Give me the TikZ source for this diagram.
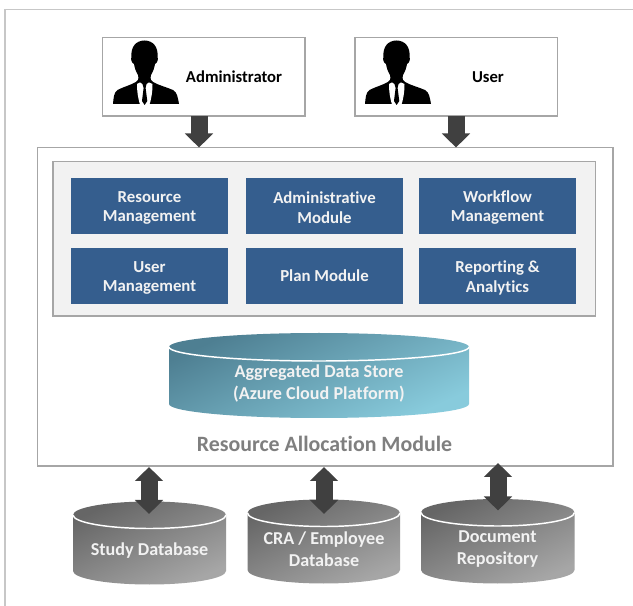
\documentclass[tikz,border=0pt]{standalone}
\usepackage{fontspec}
\setmainfont[Ligatures={NoCommon}]{Carlito}
\usetikzlibrary{arrows.meta}
\definecolor{boxline}{HTML}{A6A6A6}
\definecolor{modblue}{HTML}{355E8E}
\definecolor{arrowgrey}{HTML}{404040}
\definecolor{labelgrey}{HTML}{7F7F7F}
\definecolor{tealdark}{HTML}{4E7F92}
\definecolor{teallight}{HTML}{88CBDC}
\definecolor{dbdark}{HTML}{666666}
\definecolor{dblight}{HTML}{A6A6A6}
\definecolor{modtext}{HTML}{F2F2F2}
\newcommand{\modstrut}{\rule{0pt}{11.5pt}}
\tikzset{
  x=0.75pt,y=-0.75pt,
  framebox/.style={draw=boxline,line width=1.2pt,fill=white,inner sep=0pt,outer sep=0pt},
  actorbox/.style={framebox,minimum width=152pt,minimum height=59pt},
  actorlabel/.style={font=\fontsize{12.5pt}{14pt}\bfseries,text=black,inner sep=0pt},
  modbox/.style={fill=modblue,text=modtext,font=\fontsize{12.6pt}{14.6pt}\bfseries,align=center,
    minimum width=117.75pt,minimum height=42pt,inner sep=0pt,outer sep=0pt},
  dbtext/.style={text=modtext,font=\fontsize{13.6pt}{16.5pt}\bfseries,align=center,inner sep=0pt},
  flow/.style={draw=arrowgrey,line width=12.75pt,-{Triangle[length=10.5pt,width=20.5pt]}},
  bothflow/.style={draw=arrowgrey,line width=12.75pt,{Triangle[length=10.5pt,width=20.5pt]}-{Triangle[length=10.5pt,width=20.5pt]}},
  rim/.style={draw=white,line width=1.1pt},
  person/.pic={
    \fill[black] (8,66) .. controls (8.5,60) and (9,54) .. (12.5,52)
      .. controls (18,49) and (26,47) .. (31,44)
      .. controls (33,43) and (34,41) .. (33,37)
      .. controls (30.5,33) and (29.5,29) .. (29,26)
      .. controls (26.5,25) and (25.5,21) .. (26.5,19)
      .. controls (25.5,9) and (31,2.5) .. (39.5,2.5)
      .. controls (48,2.5) and (53.5,9) .. (52.5,19)
      .. controls (53.5,21) and (52.5,25) .. (50,26)
      .. controls (49.5,29) and (48.5,33) .. (46,37)
      .. controls (45,41) and (46,43) .. (48,44)
      .. controls (53,47) and (61,49) .. (68,52)
      .. controls (72,54) and (73,60) .. (74,66) -- cycle;
    \fill[white] (32,46) -- (35,44.5) -- (39.5,47.5) -- (44,44.5) -- (47.5,46)
      .. controls (47.5,55) and (46,62) .. (44.5,66.5) -- (35,66.5)
      .. controls (33.5,62) and (32,55) .. (32,46) -- cycle;
    \fill[black] (37.5,46) -- (41.5,46) -- (40.6,50) -- (42.3,63) -- (39.6,67) -- (37,63) -- (38.6,50) -- cycle;
  }
}
% #1 shading start, #2 end, #3 left x, #4 right x, #5 top ellipse centre y, #6 bottom ellipse centre y, #7 ry
\newcommand{\dbdrum}[7]{%
  \path[left color=#1,right color=#2,shading angle=25]
    (#3,#5) arc[start angle=180,end angle=360,x radius={(#4-#3)/2},y radius=#7]
    -- (#4,#6) arc[start angle=0,end angle=180,x radius={(#4-#3)/2},y radius=#7] -- cycle;
  \draw[rim] (#3,#5) arc[start angle=180,end angle=0,x radius={(#4-#3)/2},y radius=#7];
}
\begin{document}
\begin{tikzpicture}
\useasboundingbox (0,0) rectangle (633,606);
\fill[white] (0,0) rectangle (633,606);
\draw[draw=black!22,line width=0.9pt] (5,606) -- (5,9.5) -- (633,9.5);

% actors
\node[actorbox,anchor=north west] (admin) at (102.5,37.5) {};
\node[actorbox,anchor=north west] (user) at (355,37.5) {};
\pic at (105,38) {person};
\pic at (357,38) {person};
\node[actorlabel] (adminlabel) at (234,77) {Administrator};
\node[actorlabel] (userlabel) at (488,77) {User};

% main module
\node[framebox,minimum width=431.5pt,minimum height=239pt,anchor=north west] (main) at (37.5,147.5) {};
\node[framebox,fill=black!5,minimum width=407pt,minimum height=116pt,anchor=north west] (inner) at (53,161.5) {};

\node[modbox,anchor=north west] (resm) at (71,178) {\modstrut Resource\\Management};
\node[modbox,anchor=north west] (admod) at (246,178) {\modstrut Administrative\\Module};
\node[modbox,anchor=north west] (workf) at (419,178) {\modstrut Workflow\\Management};
\node[modbox,anchor=north west] (userm) at (71,248) {\modstrut User\\Management};
\node[modbox,anchor=north west] (plan) at (246,248) {Plan Module};
\node[modbox,anchor=north west] (report) at (419,248) {\modstrut Reporting \&\\Analytics};

% data store
\dbdrum{tealdark}{teallight}{169}{469}{347}{404}{14}
\node[dbtext] (store) at (319,384) {Aggregated Data Store\\(Azure Cloud Platform)};
\node[text=labelgrey,font=\fontsize{16.4pt}{18pt}\bfseries,inner sep=0pt] (ramlabel) at (324.5,444) {Resource Allocation Module};

% databases
\dbdrum{dbdark}{dblight}{73}{226}{515}{571}{13.5}
\dbdrum{dbdark}{dblight}{247.5}{400}{513}{570}{13.5}
\dbdrum{dbdark}{dblight}{421}{574.5}{512.5}{570}{13.5}
\node[dbtext] (study) at (149.5,551) {Study Database};
\node[dbtext] (cra) at (324,549) {CRA / Employee\\Database};
\node[dbtext] (docs) at (497.5,549) {Document\\Repository};

% connectors
\coordinate (a1) at (admin.south -| 199,0);
\coordinate (a2) at (main.north -| 199,0);
\coordinate (u1) at (user.south -| 456,0);
\coordinate (u2) at (main.north -| 456,0);
\draw[flow] (a1) -- (a2);
\draw[flow] (u1) -- (u2);
\coordinate (s1) at (149,467);
\coordinate (s2) at (149,514);
\coordinate (c1) at (324,467);
\coordinate (c2) at (324,514);
\coordinate (d1) at (498,463);
\coordinate (d2) at (498,510.5);
\draw[bothflow] (s1) -- (s2);
\draw[bothflow] (c1) -- (c2);
\draw[bothflow] (d1) -- (d2);
\end{tikzpicture}
\end{document}
